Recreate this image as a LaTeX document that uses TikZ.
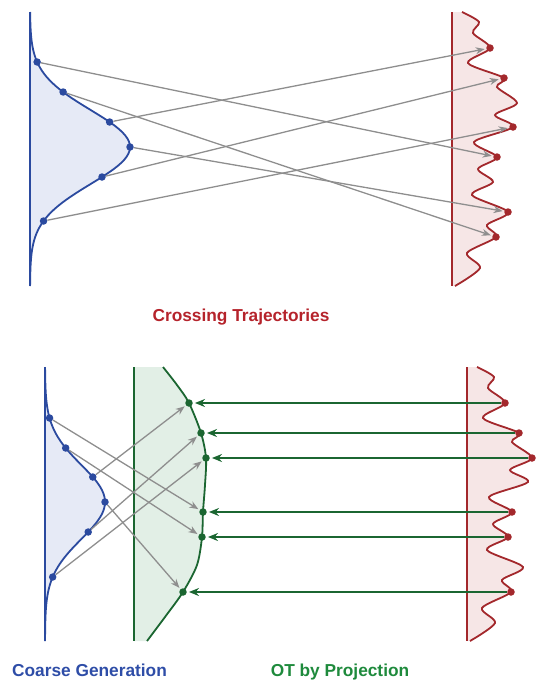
\documentclass[tikz,border=0pt]{standalone}
\usepackage{fontspec}
\setmainfont{Liberation Sans}
\usetikzlibrary{arrows.meta}
\definecolor{coarseblue}{HTML}{2B4A9F}
\definecolor{coarsefill}{HTML}{E6EAF6}
\definecolor{targetred}{HTML}{A3282C}
\definecolor{targetfill}{HTML}{F6E6E6}
\definecolor{projgreen}{HTML}{1B6631}
\definecolor{projfill}{HTML}{E2EFE6}
\definecolor{linkgray}{HTML}{8E8E8E}
\definecolor{labelred}{HTML}{B5232B}
\definecolor{labelblue}{HTML}{2E4DA7}
\definecolor{labelgreen}{HTML}{1E8A3C}
\tikzset{
 pics/bell/.style={code={
  \fill[coarsefill] plot[domain=0:274,samples=90] ({#1*exp(-((\x-135)/37)*((\x-135)/37)/2)},\x) -- cycle;
  \draw[coarseblue,line width=1.2pt] (0,0) -- (0,274);
  \draw[coarseblue,line width=1.8pt] plot[domain=0:274,samples=90] ({#1*exp(-((\x-135)/37)*((\x-135)/37)/2)},\x);
 }},
 pics/wave/.style={code={
  \fill[targetfill] plot[smooth] coordinates {(10,0) (27,10) (21,21) (38,36) (16,51) (52,66) (45,75) (65,91) (43,103) (61,115) (22,130) (45,145) (26,157) (41,170) (20,183) (56,200) (35,213) (44,225) (15,241) (28,256) (3,274)} -- (0,274) -- (0,0) -- cycle;
  \draw[targetred,line width=1.2pt] (0,0) -- (0,274);
  \draw[targetred,line width=1.8pt] plot[smooth] coordinates {(10,0) (27,10) (21,21) (38,36) (16,51) (52,66) (45,75) (65,91) (43,103) (61,115) (22,130) (45,145) (26,157) (41,170) (20,183) (56,200) (35,213) (44,225) (15,241) (28,256) (3,274)};
 }}
}
\begin{document}
\begin{tikzpicture}[x=1pt,y=-1pt,
 dot/.style={circle,fill,inner sep=0pt,minimum size=7.5pt},
 link/.style={draw=linkgray,line width=1.3pt,shorten >=1.5pt,-{Stealth[length=9pt,width=7pt]}},
 pull/.style={draw=projgreen,line width=2pt,shorten >=2pt,-{Stealth[length=10pt,width=8pt]}},
 title/.style={font=\bfseries\fontsize{17.3}{20}\selectfont,anchor=base}]
\useasboundingbox (0,0) rectangle (550,689);
% top: crossing trajectories
\pic at (30,12) {bell=100};
\pic at (452,12) {wave};
\foreach \n/\y in {1/62,2/92,3/122,4/147,5/177,6/221}
 \node[dot,coarseblue] (b\n) at ({30+100*exp(-((\y-147)/37)*((\y-147)/37)/2)},\y) {};
\foreach \n/\p in {1/{490,48},2/{504,78},3/{513,127},4/{497,157},5/{508,212},6/{496,237}}
 \node[dot,targetred] (r\n) at (\p) {};
\foreach \x/\y in {1/4,2/6,3/1,4/5,5/2,6/3}\draw[link] (b\x)--(r\y);
\node[title,labelred] (crossing) at (241,321) {Crossing Trajectories};
% bottom: coarse generation and projection
\pic at (45,367) {bell=60};
\pic at (467,367) {wave};
\fill[projfill] (134,367) -- plot[smooth] coordinates {(163,367) (177,385) (189,403) (201,433) (206,458) (205,485) (203,512) (202,537) (197,565) (183,592) (165,617) (147,641)} -- (134,641) -- cycle;
\draw[projgreen,line width=1.2pt] (134,367) -- (134,641);
\draw[projgreen,line width=1.8pt] plot[smooth] coordinates {(163,367) (177,385) (189,403) (201,433) (206,458) (205,485) (203,512) (202,537) (197,565) (183,592) (165,617) (147,641)};
\foreach \n/\y in {1/418,2/448,3/477,4/502,5/532,6/577}
 \node[dot,coarseblue] (c\n) at ({45+60*exp(-((\y-502)/37)*((\y-502)/37)/2)},\y) {};
\foreach \n/\p in {1/{189,403},2/{201,433},3/{206,458},4/{203,512},5/{202,537},6/{183,592}}
 \node[dot,projgreen] (g\n) at (\p) {};
\foreach \n/\p in {1/{505,403},2/{519,433},3/{532,458},4/{512,512},5/{508,537},6/{511,592}}
 \node[dot,targetred] (t\n) at (\p) {};
\foreach \x/\y in {1/4,2/5,3/1,4/6,5/2,6/3}\draw[link] (c\x)--(g\y);
\foreach \n in {1,...,6}\draw[pull] (t\n)--(g\n);
\node[title,labelblue] (coarse) at (89.5,676) {Coarse Generation};
\node[title,labelgreen] (projection) at (340,676) {OT by Projection};
\end{tikzpicture}
\end{document}
